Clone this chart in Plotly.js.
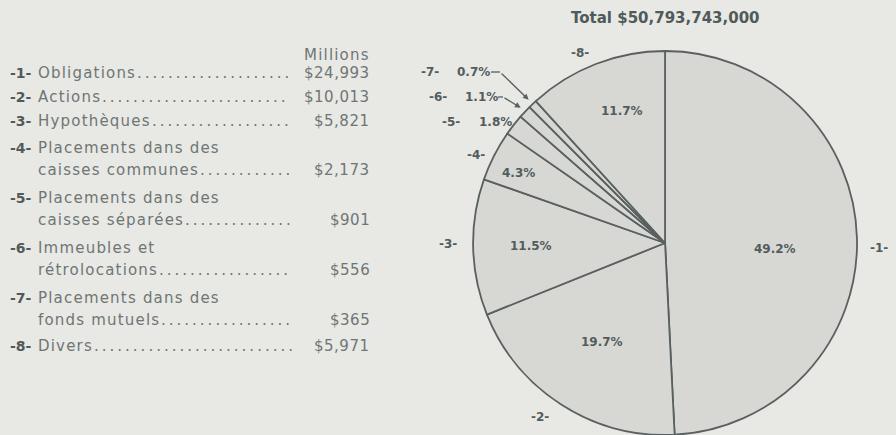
<!DOCTYPE html>
<html>
<head>
<meta charset="utf-8">
<script src="https://cdn.plot.ly/plotly-3.0.1.min.js"></script>
<style>
  html, body { margin: 0; padding: 0; background: #e8e8e4; }
  #chart { width: 896px; height: 435px; }
</style>
</head>
<body>
<div id="chart"></div>
<script>
// ---- data ----
const sliceIds = ['-1-', '-2-', '-3-', '-4-', '-5-', '-6-', '-7-', '-8-'];
const categories = ['Obligations', 'Actions', 'Hypothèques',
  'Placements dans des caisses communes', 'Placements dans des caisses séparées',
  'Immeubles et rétrolocations', 'Placements dans des fonds mutuels', 'Divers'];
const legendLines = [['Obligations'], ['Actions'], ['Hypothèques'],
  ['Placements dans des', 'caisses communes'], ['Placements dans des', 'caisses séparées'],
  ['Immeubles et', 'rétrolocations'], ['Placements dans des', 'fonds mutuels'], ['Divers']];
const valuesMillions = [24993, 10013, 5821, 2173, 901, 556, 365, 5971];
const valueLabels = ['$24,993', '$10,013', '$5,821', '$2,173', '$901', '$556', '$365', '$5,971'];
const pctLabels = ['49.2%', '19.7%', '11.5%', '4.3%', '1.8%', '1.1%', '0.7%', '11.7%'];
const totalLabel = 'Total $50,793,743,000';
const unitLabel = 'Millions';

// ---- style / layout ----
const W = 896, H = 435;
const bg = '#e8e8e4';
const pieFill = '#d7d8d4';
const lineCol = '#586060';
const txtCol = '#6e7676';
const numCol = '#4f5a5a';
const pieTxt = '#525c5c';
const FONT = 'DejaVu Sans, sans-serif';
const legFont = 15;
const legLS = 1.2;   // letter spacing of legend labels (px)
const valLS = 0.5;   // letter spacing of values (px)
const dotLS = 3;     // letter spacing of leader dots (px)

const px = (x) => x / W;
const py = (y) => 1 - y / H;
const spaced = (t, ls) => '<span style="letter-spacing:' + ls + 'px">' + t + '</span>';

// pie domain (paper fractions)
const dom = { x: [0.528, 0.9565], y: [0, 0.8828] };

// label positions in pixels
const outerPos = [[879, 248], [540, 417], [448, 244], [476, 155], null, null, null, [580, 53]];
const innerPos = [[775, 249], [602, 342], [531, 246], [518, 173], null, null, null, [622, 111]];
const smallIdPos = { 4: [451, 122], 5: [438, 97], 6: [430, 72] };
const smallPctPos = { 4: [477, 122], 5: [463, 97], 6: [455, 72] };

const ann = [];
ann.push({ x: px(665), y: py(18), xref: 'paper', yref: 'paper', text: '<b>' + totalLabel + '</b>',
  showarrow: false, font: { family: FONT, size: 15, color: numCol }, xanchor: 'center', yanchor: 'middle' });

for (let i = 0; i < sliceIds.length; i++) {
  if (outerPos[i]) {
    ann.push({ x: px(outerPos[i][0]), y: py(outerPos[i][1]), xref: 'paper', yref: 'paper',
      text: '<b>' + sliceIds[i] + '</b>', showarrow: false,
      font: { family: FONT, size: 12, color: pieTxt }, xanchor: 'center', yanchor: 'middle' });
    ann.push({ x: px(innerPos[i][0]), y: py(innerPos[i][1]), xref: 'paper', yref: 'paper',
      text: '<b>' + pctLabels[i] + '</b>', showarrow: false,
      font: { family: FONT, size: 12, color: pieTxt }, xanchor: 'center', yanchor: 'middle' });
  }
}
// small slices labels
[4, 5, 6].forEach(i => {
  const p = smallIdPos[i], q = smallPctPos[i];
  ann.push({ x: px(p[0]), y: py(p[1]), xref: 'paper', yref: 'paper',
    text: '<b>' + sliceIds[i] + '</b>', showarrow: false,
    font: { family: FONT, size: 12, color: pieTxt }, xanchor: 'center', yanchor: 'middle' });
  ann.push({ x: px(q[0]), y: py(q[1]), xref: 'paper', yref: 'paper',
    text: '<b>' + pctLabels[i] + '</b>', showarrow: false,
    font: { family: FONT, size: 12, color: pieTxt }, xanchor: 'left', yanchor: 'middle' });
});

// arrows to slices 6 and 7 computed from data
const total = valuesMillions.reduce((a, b) => a + b, 0);
const cx = W * (dom.x[0] + dom.x[1]) / 2;
const R = Math.min(W * (dom.x[1] - dom.x[0]), H * (dom.y[1] - dom.y[0])) / 2;
const cy = H - (H * (dom.y[0] + dom.y[1]) / 2);
function midAngle(i) {
  let c = 0; for (let k = 0; k < i; k++) c += valuesMillions[k];
  return 2 * Math.PI * (c + valuesMillions[i] / 2) / total;
}
function edgePt(i, rf) {
  const a = midAngle(i);
  return [cx + R * rf * Math.sin(a), cy - R * rf * Math.cos(a)];
}
const arrowTails = { 5: [503, 97], 6: [500, 72] };
[5, 6].forEach(i => {
  const tip = edgePt(i, 1.03);
  const tail = arrowTails[i];
  ann.push({ x: px(tip[0]), y: py(tip[1]), xref: 'paper', yref: 'paper', text: '',
    showarrow: true, arrowhead: 2, arrowsize: 0.9, arrowwidth: 1.3, arrowcolor: lineCol,
    ax: tail[0] - tip[0], ay: tail[1] - tip[1], standoff: 0, startstandoff: 0 });
});
// short horizontal dashes of the leaders
const dashes = [[491, 72, 500, 72], [498, 97, 503, 97]];

// ---- left legend table ----
const ctx = document.createElement('canvas').getContext('2d');
ctx.font = legFont + 'px "DejaVu Sans"';
const textW = (t, ls) => ctx.measureText(t).width + t.length * ls;
const rowY = [73, 97, 121, 148, 198, 248, 298, 346];
const lineGap = 22;
const numX = 8, labX = 36, valX = 372, dotsEnd = 294;
ann.push({ x: px(valX), y: py(55), xref: 'paper', yref: 'paper', text: spaced(unitLabel, legLS), showarrow: false,
  font: { family: FONT, size: legFont, color: txtCol }, xanchor: 'right', yanchor: 'middle' });
const dotPitch = ctx.measureText('.').width + dotLS;
for (let i = 0; i < categories.length; i++) {
  const y0 = rowY[i];
  const lines = legendLines[i];
  ann.push({ x: px(numX), y: py(y0), xref: 'paper', yref: 'paper', text: '<b>' + sliceIds[i] + '</b>',
    showarrow: false, font: { family: FONT, size: 14, color: numCol }, xanchor: 'left', yanchor: 'middle' });
  lines.forEach((ln, j) => {
    const last = j === lines.length - 1;
    const yy = y0 + j * lineGap;
    ann.push({ x: px(labX), y: py(yy), xref: 'paper', yref: 'paper', text: spaced(ln, legLS),
      showarrow: false, font: { family: FONT, size: legFont, color: txtCol }, xanchor: 'left', yanchor: 'middle' });
    if (last) {
      const wl = textW(ln, legLS);
      const vw = textW(valueLabels[i], valLS);
      const end = Math.min(dotsEnd, valX - vw - 8);
      const start = labX + wl + 1;
      const n = Math.max(0, Math.floor((end - start) / dotPitch));
      ann.push({ x: px(start), y: py(yy), xref: 'paper', yref: 'paper', text: spaced('.'.repeat(n), dotLS),
        showarrow: false, font: { family: FONT, size: legFont, color: txtCol }, xanchor: 'left', yanchor: 'middle' });
      ann.push({ x: px(valX), y: py(yy), xref: 'paper', yref: 'paper', text: spaced(valueLabels[i], valLS),
        showarrow: false, font: { family: FONT, size: legFont, color: txtCol }, xanchor: 'right', yanchor: 'middle' });
    }
  });
}

const shapes = dashes.map(d => ({ type: 'line', xref: 'paper', yref: 'paper',
  x0: px(d[0]), y0: py(d[1]), x1: px(d[2]), y1: py(d[3]), line: { color: lineCol, width: 1.3 } }));

const trace = {
  type: 'pie',
  values: valuesMillions,
  labels: categories,
  sort: false,
  direction: 'clockwise',
  rotation: 0,
  textinfo: 'none',
  hoverinfo: 'none',
  marker: { colors: categories.map(() => pieFill), line: { color: lineCol, width: 1.8 } },
  domain: dom,
  showlegend: false
};

const layout = {
  width: W, height: H,
  margin: { l: 0, r: 0, t: 0, b: 0 },
  paper_bgcolor: bg,
  plot_bgcolor: bg,
  showlegend: false,
  annotations: ann,
  shapes: shapes
};

Plotly.newPlot('chart', [trace], layout, { displayModeBar: false, staticPlot: true });
</script>
</body>
</html>
